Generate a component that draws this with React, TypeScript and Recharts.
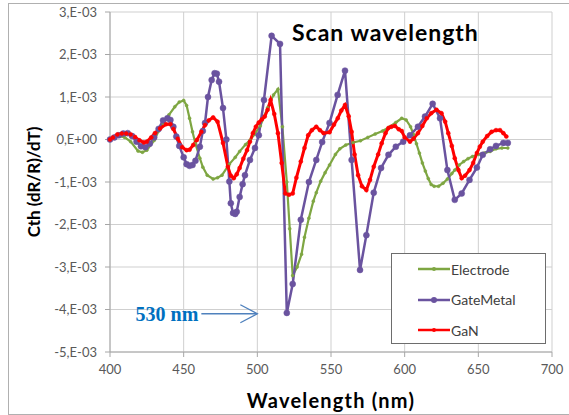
import React from 'react';
import { LineChart, Line, XAxis, YAxis, CartesianGrid, Legend, ReferenceLine } from 'recharts';

// wavelength (nm) and Cth (x 1e-3)
const electrodeNm = [400, 403, 407, 410, 414, 419, 422, 425, 430, 433, 436, 440, 444, 447, 450, 452, 454, 456, 458, 461, 463, 466, 470, 473, 476, 481, 485, 488, 492, 495, 498, 502, 507, 511, 514, 517, 520, 522, 524, 527, 530, 532, 535, 538, 540, 543, 546, 549, 553, 556, 560, 565, 570, 575, 580, 585, 590, 594, 598, 601, 604, 606, 608, 610, 612, 614, 616, 618, 620, 623, 626, 629, 632, 634, 637, 640, 643, 646, 650, 654, 658, 662, 666, 670];
const electrodeVal = [0.0, 0.05, 0.08, 0.05, -0.05, -0.27, -0.3, -0.25, -0.02, 0.2, 0.39, 0.58, 0.77, 0.88, 0.92, 0.8, 0.5, 0.18, -0.1, -0.44, -0.65, -0.84, -0.93, -0.9, -0.84, -0.58, -0.42, -0.28, -0.12, -0.02, 0.12, 0.32, 0.75, 1.05, 1.18, 0.3, -1.0, -2.1, -3.2, -3.0, -2.7, -2.3, -1.85, -1.45, -1.25, -0.98, -0.78, -0.6, -0.35, -0.22, -0.13, -0.07, -0.03, 0.05, 0.13, 0.2, 0.3, 0.4, 0.5, 0.46, 0.3, 0.12, -0.1, -0.32, -0.55, -0.74, -0.92, -1.06, -1.1, -1.1, -1.03, -0.93, -0.8, -0.72, -0.6, -0.52, -0.45, -0.4, -0.35, -0.32, -0.28, -0.22, -0.2, -0.2];

const gateNm = [400, 403, 406, 409, 412, 415, 418, 421, 424, 427, 430, 433, 436, 439, 441, 443, 445, 447, 450, 452, 454, 456, 458, 461, 463, 464.5, 466.5, 469, 471, 472.5, 474, 476.7, 479, 481, 482, 483.5, 485, 486, 488, 490, 491.6, 495, 498.4, 501, 504.5, 509.7, 515.4, 520, 524, 529.5, 535, 540, 544, 549, 554.5, 559.5, 564, 569.7, 574, 579, 584, 589, 594, 599, 603.6, 609, 613.8, 619, 624, 629, 634, 638.7, 644, 649, 653, 658, 662, 667, 670];
const gateVal = [0.0, 0.05, 0.1, 0.14, 0.15, 0.08, -0.05, -0.16, -0.18, -0.1, 0.05, 0.25, 0.45, 0.5, 0.46, 0.3, 0.07, -0.15, -0.42, -0.58, -0.62, -0.6, -0.5, -0.17, 0.2, 0.39, 1.0, 1.4, 1.56, 1.55, 1.36, 0.74, 0.0, -0.99, -1.5, -1.73, -1.75, -1.7, -1.35, -1.05, -0.84, -0.48, -0.2, 0.1, 0.93, 2.44, 2.25, -4.08, -3.4, -1.89, -1.0, -0.48, -0.06, 0.39, 1.05, 1.62, -0.48, -3.07, -2.25, -1.25, -0.67, -0.36, -0.17, -0.05, 0.1, 0.3, 0.54, 0.84, 0.5, -0.72, -1.42, -1.27, -0.95, -0.66, -0.36, -0.23, -0.15, -0.08, -0.08];

const ganNm = [400, 402, 405, 408, 411, 414, 417, 420, 423, 425, 428, 430.5, 434, 438, 441, 443, 446, 449, 452, 454, 456.5, 459, 462, 464.5, 467, 470, 473, 476.7, 480, 482, 484, 486, 488, 490.5, 493, 495, 497, 499, 501, 503, 505, 507, 509, 511.5, 514, 516.5, 519, 521.5, 524, 526.5, 529.5, 532, 534.5, 537, 540, 542.5, 545, 549, 552, 554.6, 557, 559.5, 562, 564, 566, 568.4, 571, 574, 576.5, 579, 582, 584.4, 587, 589, 591, 593.4, 596, 598, 600, 603.6, 606, 609, 612, 615, 618, 621.6, 625, 627.5, 629.6, 632, 634, 636.5, 638.7, 641, 644, 646.5, 649, 651, 653, 656, 659, 662, 664.7, 667, 669];
const ganVal = [0.0, 0.05, 0.12, 0.14, 0.14, 0.12, 0.06, -0.02, -0.07, -0.05, 0.05, 0.15, 0.26, 0.36, 0.36, 0.25, 0.02, -0.18, -0.25, -0.24, -0.13, -0.01, 0.18, 0.34, 0.45, 0.52, 0.42, -0.08, -0.64, -0.85, -0.91, -0.82, -0.67, -0.45, -0.25, -0.05, 0.15, 0.3, 0.4, 0.47, 0.54, 0.7, 0.93, 0.6, 0.15, -0.55, -1.27, -1.3, -1.27, -0.9, -0.52, -0.2, 0.1, 0.22, 0.3, 0.22, 0.15, 0.17, 0.35, 0.5, 0.68, 0.81, 0.55, 0.18, -0.35, -0.84, -1.1, -1.19, -0.95, -0.64, -0.35, -0.09, 0.15, 0.27, 0.3, 0.32, 0.24, 0.2, 0.05, -0.05, 0.02, 0.15, 0.32, 0.5, 0.62, 0.7, 0.62, 0.42, 0.15, -0.15, -0.44, -0.72, -0.91, -0.85, -0.72, -0.55, -0.32, -0.17, -0.05, 0.08, 0.18, 0.22, 0.22, 0.15, 0.07];

const seriesNames = ['Electrode', 'GateMetal', 'GaN'];
const xTicks = [400, 450, 500, 550, 600, 650, 700];
const yTicks = [-5, -4, -3, -2, -1, 0, 1, 2, 3];

const toPoints = (nm: number[], val: number[]) => nm.map((x, i) => ({ nm: x, v: val[i] }));
const electrodeData = toPoints(electrodeNm, electrodeVal);
const gateData = toPoints(gateNm, gateVal);
const ganData = toPoints(ganNm, ganVal);

const FONT = 'Lato, "Open Sans", sans-serif';
const GREEN = '#7ea642';
const PURPLE = '#6a539f';
const RED = '#ff0000';

const fmtY = (v: number) => (v === 0 ? '0,E+00' : `${v},E-03`);

const Arrow = (p: any) => {
  const { x1, y1, x2, y2 } = p;
  return (
    <g>
      <line x1={x1} y1={y1} x2={x2} y2={y2} stroke="#4f81bd" strokeWidth={1.3} />
      <path d={`M${x2 - 17},${y2 - 9} L${x2},${y2} L${x2 - 17},${y2 + 9}`} fill="none" stroke="#4f81bd" strokeWidth={1.3} />
      <text x={x1 - 3} y={y1} dy="0.35em" textAnchor="end" fill="#0070c0" fontFamily='"Liberation Serif", serif' fontWeight="bold" fontSize={20}>
        530 nm
      </text>
    </g>
  );
};

const LegendBox = (props: any) => {
  const items = [...(props.payload || [])].sort(
    (a: any, b: any) => seriesNames.indexOf(a.value) - seriesNames.indexOf(b.value)
  );
  return (
    <div style={{ width: 155, height: 91, boxSizing: 'border-box', border: '1px solid #6d6d6d', background: '#fff', paddingTop: 0 }}>
      {items.map((it: any) => (
        <div key={it.value} style={{ display: 'flex', alignItems: 'center', height: 30.5, paddingLeft: 26 }}>
          <svg width={32} height={10}>
            <line x1={0} y1={5} x2={32} y2={5} stroke={it.color} strokeWidth={2.5} />
            <circle cx={16} cy={5} r={it.value === 'GateMetal' ? 3 : 2} fill={it.color} />
          </svg>
          <span style={{ fontFamily: FONT, fontSize: 14, color: '#404040', marginLeft: 1 }}>{it.value}</span>
        </div>
      ))}
    </div>
  );
};

export default function App() {
  return (
    <div style={{ position: 'absolute', left: 0, top: 0, width: 569, height: 415, background: '#fff' }}>
      <LineChart width={569} height={415} margin={{ top: 12, right: 17, bottom: 0, left: 0 }}>
        <CartesianGrid stroke="#cfcfcf" strokeWidth={1} />
        <XAxis
          dataKey="nm"
          type="number"
          domain={[400, 700]}
          ticks={xTicks}
          height={63}
          tickSize={5}
          tickMargin={8}
          stroke="#a6a6a6"
          tick={{ fill: '#595959', fontSize: 13, fontFamily: FONT }}
          allowDuplicatedCategory={false}
          label={{ value: 'Wavelength (nm)', position: 'insideBottom', offset: 7, fill: '#000', fontSize: 20, fontWeight: 'bold', fontFamily: FONT, style: { letterSpacing: '1.2px' } }}
        />
        <YAxis
          type="number"
          domain={[-5, 3]}
          ticks={yTicks}
          width={110}
          tickSize={5}
          tickMargin={8}
          stroke="#a6a6a6"
          tickFormatter={fmtY}
          tick={{ fill: '#595959', fontSize: 13, fontFamily: FONT }}
          label={{ value: 'Cth (dR/R)/dT)', angle: -90, position: 'insideLeft', offset: 34, fill: '#000', fontSize: 17, fontWeight: 'bold', fontFamily: FONT, style: { textAnchor: 'middle' } }}
        />
        <ReferenceLine segment={[{ x: 462, y: -4.1 }, { x: 500, y: -4.1 }]} shape={Arrow} />
        <Line data={electrodeData} dataKey="v" name="Electrode" stroke={GREEN} strokeWidth={2.2} dot={{ r: 1.5, fill: GREEN, stroke: GREEN, strokeWidth: 0.5 }} isAnimationActive={false} />
        <Line data={gateData} dataKey="v" name="GateMetal" stroke={PURPLE} strokeWidth={2.5} dot={{ r: 3, fill: PURPLE, stroke: PURPLE, strokeWidth: 0.5 }} isAnimationActive={false} />
        <Line data={ganData} dataKey="v" name="GaN" stroke={RED} strokeWidth={3} dot={{ r: 2, fill: RED, stroke: RED, strokeWidth: 0.5 }} isAnimationActive={false} />
        <Legend
          layout="horizontal"
          verticalAlign="middle"
          align="center"
          content={LegendBox}
          wrapperStyle={{ left: 391, top: 253, width: 155, height: 91 }}
        />
      </LineChart>
      <div style={{ position: 'absolute', left: 292, top: 20, fontFamily: FONT, fontWeight: 'bold', fontSize: 23, lineHeight: '24px', letterSpacing: '1px', color: '#000' }}>
        Scan wavelength
      </div>
      <div style={{ position: 'absolute', left: 8, top: 3, width: 570, height: 410, borderLeft: '1px solid #b0b0b0', borderTop: '1px solid #b0b0b0', borderBottom: '1px solid #b0b0b0', pointerEvents: 'none' }} />
    </div>
  );
}
